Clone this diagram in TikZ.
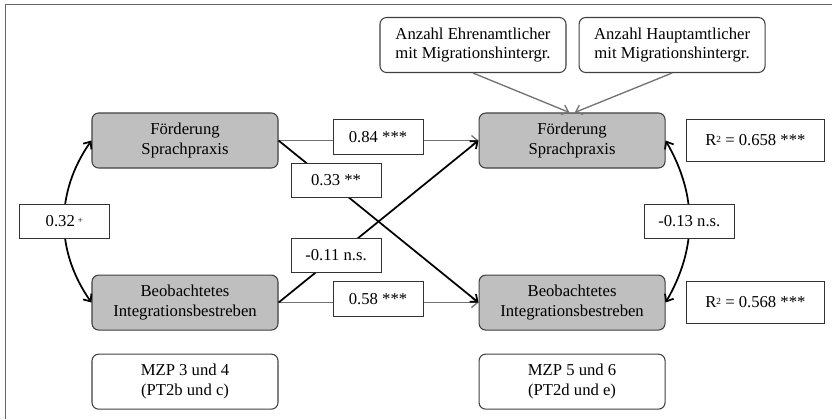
\documentclass[tikz,border=0pt]{standalone}
\usepackage{fontspec}
\setmainfont{Liberation Serif}
\usepackage{tikz}
\usetikzlibrary{shapes,arrows,arrows.meta,positioning}

\tikzset{
  every node/.style={font=\fontsize{12.5pt}{14.5pt}\selectfont},
  latent/.style={draw=black!75, fill=black!25, rounded corners=5pt, align=center, line width=0.8pt, minimum width=139.5pt, minimum height=41.25pt},
  info/.style={latent, fill=white},
  coef/.style={draw=black!80, fill=white, line width=0.7pt, inner sep=1pt, minimum width=67.5pt, minimum height=26pt},
  rsq/.style={coef, minimum width=104pt, minimum height=32pt},
  effect/.style={->, line width=1.3pt},
  stab/.style={->, draw=black!55, line width=1pt},
  corr/.style={<->, line width=1.3pt},
  >={Straight Barb[length=4.5pt,width=7.5pt]}
}

\begin{document}
\begin{tikzpicture}[x=0.75pt, y=-0.75pt]
\useasboundingbox (0,0) rectangle (832,419);
\draw[black!60, line width=1.2pt] (5.5,419) -- (5.5,4.5) -- (832,4.5);

    % first time span
    \node[latent] (FoerdA) at (185,140.5) {Förderung\\Sprachpraxis};
    \node[latent, below=79.5pt of FoerdA] (IntegA) {Beobachtetes\\Integrationsbestreben};
    \node[info, below=17.25pt of IntegA] (ZeitA) {MZP 3 und 4\\(PT2b und c)};
    % second time span
    \node[latent, right=150pt of FoerdA] (FoerdB) {Förderung\\Sprachpraxis};
    \node[latent, right=150pt of IntegA] (IntegB) {Beobachtetes\\Integrationsbestreben};
    \node[info, right=150pt of ZeitA] (ZeitB) {MZP 5 und 6\\(PT2d und e)};
    \node[info] (Ehren) at (473,45) {Anzahl Ehrenamtlicher\\mit Migrationshintergr.};
    \node[info, right=9pt of Ehren] (Haupt) {Anzahl Hauptamtlicher\\mit Migrationshintergr.};
    \node[rsq, right=15pt of FoerdB] (RFoerd) {R{\scriptsize\raisebox{0.9ex}{2}} = 0.658 ***};
    \node[rsq, right=15pt of IntegB] (RInteg) {R{\scriptsize\raisebox{0.9ex}{2}} = 0.568 ***};

    \draw[stab] (FoerdA.east) -- (FoerdB.west);
    \draw[stab] (IntegA.east) -- (IntegB.west);
    \draw[effect] (FoerdA.east) -- (IntegB.west);
    \draw[effect] (IntegA.east) -- (FoerdB.west);
    \draw[stab] (Ehren.south) -- ([xshift=-2pt]FoerdB.north);
    \draw[stab] (Haupt.south) -- ([xshift=2pt]FoerdB.north);
    \draw[corr] (FoerdA.west) to[bend right=35] node[coef] (CorrA) {0.32\,{\scriptsize\raisebox{0.9ex}{+}}} (IntegA.west);
    \draw[corr] (FoerdB.east) to[bend left=30] node[coef] (CorrB) {-0.13 n.s.} (IntegB.east);

    \node[coef] (StabF) at (378,137) {0.84 ***};
    \node[coef] (CrossF) at (336,180.5) {0.33 **};
    \node[coef] (CrossI) at (336,255.5) {-0.11 n.s.};
    \node[coef] (StabI) at (378,299) {0.58 ***};
\end{tikzpicture}
\end{document}
